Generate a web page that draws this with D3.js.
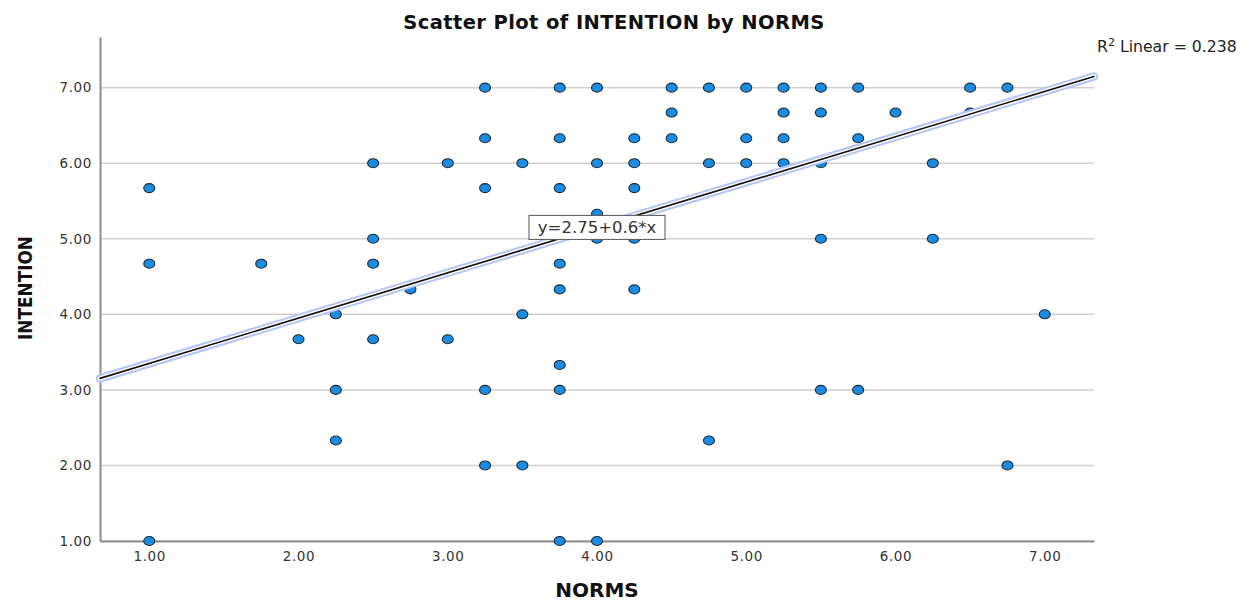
<!DOCTYPE html>
<html>
<head>
<meta charset="utf-8">
<script src="https://cdn.jsdelivr.net/npm/d3@7"></script>
<style>
  body { margin: 0; background: #fff; }
  svg { display: block; }
  .axis text { font-family: 'DejaVu Sans', sans-serif; font-size: 13.5px; fill: #333; letter-spacing: 0.6px; }
  .axis path { stroke: #8c8c8c; stroke-width: 2; }
</style>
</head>
<body>
<div id="chart"></div>
<script>
// NORMS (x) and INTENTION (y) for each respondent
var norms = [
  3.25, 3.75, 4.00, 4.50, 4.75, 5.00, 5.25, 5.50, 5.75, 6.50, 6.75,
  4.50, 5.25, 5.50, 6.00, 6.50,
  3.25, 3.75, 4.25, 4.50, 5.00, 5.25, 5.75,
  2.50, 3.00, 3.50, 4.00, 4.25, 4.75, 5.00, 5.25, 5.50, 6.25,
  1.00, 3.25, 3.75, 4.25,
  4.00,
  2.50, 4.00, 4.25, 5.50, 6.25,
  1.00, 1.75, 2.50, 3.75,
  2.75, 3.75, 4.25,
  2.25, 3.50, 7.00,
  2.00, 2.50, 3.00,
  3.75,
  2.25, 3.25, 3.75, 5.50, 5.75,
  2.25, 4.75,
  3.25, 3.50, 6.75,
  1.00, 3.75, 4.00
];
var intention = [
  7, 7, 7, 7, 7, 7, 7, 7, 7, 7, 7,
  6.67, 6.67, 6.67, 6.67, 6.67,
  6.33, 6.33, 6.33, 6.33, 6.33, 6.33, 6.33,
  6, 6, 6, 6, 6, 6, 6, 6, 6, 6,
  5.67, 5.67, 5.67, 5.67,
  5.33,
  5, 5, 5, 5, 5,
  4.67, 4.67, 4.67, 4.67,
  4.33, 4.33, 4.33,
  4, 4, 4,
  3.67, 3.67, 3.67,
  3.33,
  3, 3, 3, 3, 3,
  2.33, 2.33,
  2, 2, 2,
  1, 1, 1
];

var xTicks = [1, 2, 3, 4, 5, 6, 7];
var yTicks = [1, 2, 3, 4, 5, 6, 7];

// fit line reported by SPSS
var intercept = 2.75,
    slope = 0.6,
    rSquared = 0.238;

var width = 1243, height = 606;
var plot = {left: 100, right: 1094, top: 37, bottom: 541};

var svg = d3.select('#chart').append('svg')
    .attr('width', width)
    .attr('height', height);

var xScale = d3.scaleLinear().domain([0.67, 7.33]).range([plot.left, plot.right]),
    yScale = d3.scaleLinear().domain([1, 7.67]).range([plot.bottom, plot.top]);

// horizontal grid lines
svg.append('g')
  .selectAll('line')
    .data(yTicks)
  .enter().append('line')
    .attr('x1', plot.left)
    .attr('x2', plot.right)
    .attr('y1', function(d) { return yScale(d); })
    .attr('y2', function(d) { return yScale(d); })
    .style('stroke', '#cfcfcf')
    .style('stroke-width', 1.5);

svg.append('g')
    .attr('class', 'axis')
    .attr('transform', 'translate(0,' + plot.bottom + ')')
    .call(d3.axisBottom(xScale).tickValues(xTicks).tickSize(0).tickPadding(10)
      .tickFormat(d3.format('.2f')));

svg.append('g')
    .attr('class', 'axis')
    .attr('transform', 'translate(' + plot.left + ',0)')
    .call(d3.axisLeft(yScale).tickValues(yTicks).tickSize(0).tickPadding(8)
      .tickFormat(d3.format('.2f')));

// points
var points = norms.map(function(n, i) { return {x: n, y: intention[i]}; });

svg.append('g')
  .selectAll('ellipse')
    .data(points)
  .enter().append('ellipse')
    .attr('cx', function(d) { return xScale(d.x); })
    .attr('cy', function(d) { return yScale(d.y); })
    .attr('rx', 5.5)
    .attr('ry', 4.5)
    .style('fill', '#1a8ce4')
    .style('stroke', '#1e2a33')
    .style('stroke-width', 1.1);

// fit line with its light blue halo
var x0 = xScale.domain()[0], x1 = xScale.domain()[1];
var fit = [[x0, intercept + slope * x0], [x1, intercept + slope * x1]];
var fitLine = d3.line()
    .x(function(d) { return xScale(d[0]); })
    .y(function(d) { return yScale(d[1]); });

[['#b3c5f6', 8.5], ['#ffffff', 4.5], ['#111111', 1.6]].forEach(function(s) {
  svg.append('path')
      .datum(fit)
      .attr('d', fitLine)
      .style('fill', 'none')
      .style('stroke', s[0])
      .style('stroke-width', s[1])
      .style('stroke-linecap', 'round');
});

// equation label at x = 4
var labX = 4, labY = intercept + slope * labX;
var lab = svg.append('g')
    .attr('transform', 'translate(' + xScale(labX) + ',' + yScale(labY) + ')');
lab.append('rect')
    .attr('x', -68)
    .attr('y', -12)
    .attr('width', 136)
    .attr('height', 24)
    .style('fill', '#fff')
    .style('stroke', '#555')
    .style('stroke-width', 1);
lab.append('text')
    .attr('y', 6)
    .style('text-anchor', 'middle')
    .style('font-family', 'DejaVu Sans, sans-serif')
    .style('font-size', '16.5px')
    .style('fill', '#333')
    .text('y=' + intercept + '+' + slope + '*x');

// title and axis titles
svg.append('text')
    .attr('x', 614)
    .attr('y', 29)
    .style('text-anchor', 'middle')
    .style('font-family', 'DejaVu Sans, sans-serif')
    .style('font-weight', 'bold')
    .style('font-size', '19.5px')
    .style('letter-spacing', '0.4px')
    .style('fill', '#111')
    .text('Scatter Plot of INTENTION by NORMS');

svg.append('text')
    .attr('x', xScale(4))
    .attr('y', 597)
    .style('text-anchor', 'middle')
    .style('font-family', 'DejaVu Sans, sans-serif')
    .style('font-weight', 'bold')
    .style('font-size', '20px')
    .style('fill', '#111')
    .text('NORMS');

svg.append('text')
    .attr('transform', 'translate(32,288) rotate(-90)')
    .attr('textLength', 104)
    .attr('lengthAdjust', 'spacingAndGlyphs')
    .style('text-anchor', 'middle')
    .style('font-family', 'DejaVu Sans, sans-serif')
    .style('font-weight', 'bold')
    .style('font-size', '20px')
    .style('fill', '#111')
    .text('INTENTION');

// R squared note, top right, kept just inside the window
var r2 = svg.append('text')
    .attr('x', 1097)
    .attr('y', 52)
    .style('font-family', 'DejaVu Sans, sans-serif')
    .style('font-size', '15.7px')
    .style('fill', '#222');
r2.append('tspan').text('R');
r2.append('tspan').attr('dy', -6).style('font-size', '11px').text('2');
r2.append('tspan').attr('dy', 6).text(' Linear = ' + rSquared);
</script>
</body>
</html>
